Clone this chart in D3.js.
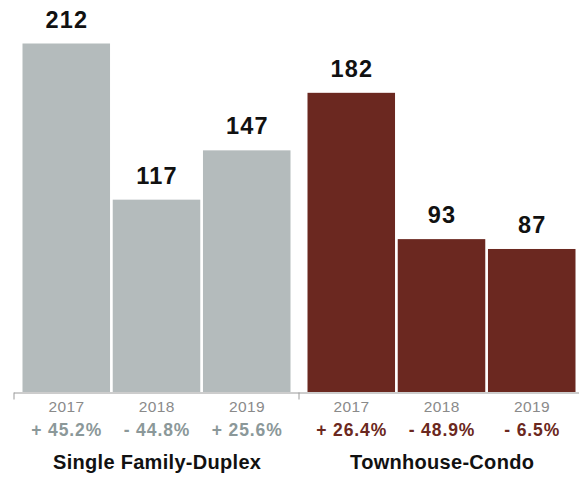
<!DOCTYPE html>
<html>
<head>
<meta charset="utf-8">
<script src="https://cdn.jsdelivr.net/npm/d3@7"></script>
<style>
  html, body { margin: 0; padding: 0; background: #fff; }
  svg { display: block; font-family: "Liberation Sans", Arial, Helvetica, sans-serif; }
</style>
</head>
<body>
<svg id="chart" width="579" height="478"></svg>
<script>
// Sales counts by property type and year, with year-over-year change
const groups = ["Single Family-Duplex", "Townhouse-Condo"];
const years = ["2017", "2018", "2019"];
const singleFamily = [212, 117, 147];
const townhouse = [182, 93, 87];
const singleFamilyChange = ["+ 45.2%", "- 44.8%", "+ 25.6%"];
const townhouseChange = ["+ 26.4%", "- 48.9%", "- 6.5%"];

const groupColors = ["#b4bbbc", "#6b2820"];
const changeColors = ["#8b9899", "#6b2820"];

const data = groups.map((g, i) => ({
  group: g,
  values: [singleFamily, townhouse][i],
  changes: [singleFamilyChange, townhouseChange][i],
  color: groupColors[i],
  changeColor: changeColors[i]
}));

const svg = d3.select("#chart");
const baseline = 392;

const x0 = d3.scaleBand().domain(groups).range([13.5, 583.5]).padding(0);
const x1 = d3.scaleBand().domain(years).range([9, x0.bandwidth() - 8]).paddingInner(0.03).paddingOuter(0);
const y = d3.scaleLinear().domain([0, 212]).range([baseline, 43.5]);

// centred text with extra tracking; dx offsets the trailing space
function tracked(sel, spacing) {
  return sel.attr("letter-spacing", spacing).attr("dx", spacing / 2);
}

const g = svg.selectAll("g.group").data(data).join("g")
  .attr("class", "group")
  .attr("transform", d => `translate(${x0(d.group)},0)`);

// bars
g.selectAll("rect").data(d => d.values.map((v, i) => ({ v, year: years[i], color: d.color })))
  .join("rect")
  .attr("x", d => x1(d.year))
  .attr("width", x1.bandwidth())
  .attr("y", d => y(d.v))
  .attr("height", d => baseline - y(d.v))
  .attr("fill", d => d.color);

// value labels above bars
g.selectAll("text.value").data(d => d.values.map((v, i) => ({ v, year: years[i] })))
  .join("text")
  .attr("class", "value")
  .attr("x", d => x1(d.year) + x1.bandwidth() / 2)
  .attr("y", d => y(d.v) - 16)
  .attr("text-anchor", "middle")
  .attr("font-size", 23.5)
  .attr("font-weight", "bold")
  .attr("fill", "#111")
  .call(tracked, 1.2)
  .text(d => d.v);

// year labels
g.selectAll("text.year").data(years)
  .join("text")
  .attr("class", "year")
  .attr("x", d => x1(d) + x1.bandwidth() / 2)
  .attr("y", 412)
  .attr("text-anchor", "middle")
  .attr("font-size", 15.5)
  .attr("fill", "#8a8a8a")
  .call(tracked, 0.4)
  .text(d => d);

// percent change labels
g.selectAll("text.change").data(d => d.changes.map((c, i) => ({ c, year: years[i], color: d.changeColor })))
  .join("text")
  .attr("class", "change")
  .attr("x", d => x1(d.year) + x1.bandwidth() / 2)
  .attr("y", 436)
  .attr("text-anchor", "middle")
  .attr("font-size", 17.5)
  .attr("font-weight", "bold")
  .attr("fill", d => d.color)
  .call(tracked, 0.9)
  .text(d => d.c);

// group titles
g.append("text")
  .attr("x", x0.bandwidth() / 2 + 1)
  .attr("y", 469)
  .attr("text-anchor", "middle")
  .attr("font-size", 20)
  .attr("font-weight", "bold")
  .attr("fill", "#111")
  .call(tracked, 0.3)
  .text(d => d.group);

// baseline axis with ticks at group boundaries
const axis = d3.axisBottom(d3.scaleLinear().domain([0, 2]).range([13.5, 583.5]))
  .tickValues([0, 1, 2])
  .tickSize(7)
  .tickSizeOuter(0)
  .tickFormat("");
const ax = svg.append("g").attr("transform", `translate(0,${baseline + 0.5})`).call(axis);
ax.selectAll("path, line").attr("stroke", "#9a9a9a");
</script>
</body>
</html>
